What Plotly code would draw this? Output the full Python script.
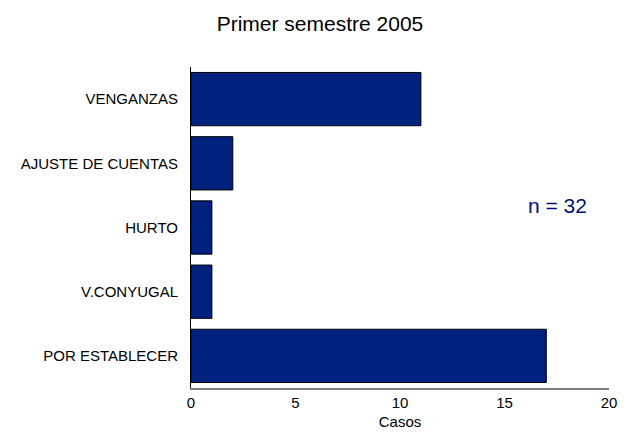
import plotly.graph_objects as go

categories = ["VENGANZAS", "AJUSTE DE CUENTAS", "HURTO", "V.CONYUGAL", "POR ESTABLECER"]
casos = [11, 2, 1, 1, 17]
x_ticks = [0, 5, 10, 15, 20]
title_text = "Primer semestre 2005"
n_text = "n = 32"

# page has an 8px body margin on every side; size the figure to fit the window exactly
OFF = 8
W, H = 634 - 2 * OFF, 445 - 2 * OFF
L, T = 191 - OFF, 67 - OFF
R = 9
B = H - (394 - OFF)
pw, ph = W - L - R, H - T - B

fig = go.Figure(go.Bar(
    y=categories, x=casos, orientation="h",
    marker=dict(color="#00217E", line=dict(color="#000000", width=1)),
    hoverinfo="x+y",
))

fig.update_layout(
    width=W, height=H,
    margin=dict(l=L, r=R, t=T, b=B, pad=0),
    paper_bgcolor="white", plot_bgcolor="white",
    bargap=0.17,
    showlegend=False,
    font=dict(family="Liberation Sans, Arial, sans-serif", color="#000000"),
    title=dict(text=title_text, x=(320 - OFF) / W, xanchor="center",
               y=1 - (24 - OFF) / H, yanchor="middle",
               font=dict(size=21, color="#000000")),
    xaxis=dict(range=[0, 20], tickvals=x_ticks, showgrid=False, zeroline=False,
               showline=True, linecolor="#808080", linewidth=2, ticks="",
               tickfont=dict(size=15), title=dict(text="Casos", font=dict(size=15), standoff=6)),
    yaxis=dict(autorange="reversed", categoryorder="array", categoryarray=categories,
               showgrid=False, zeroline=False, showline=True, linecolor="#000000",
               linewidth=1, ticks="", tickfont=dict(size=15), ticklabelstandoff=9),
    annotations=[dict(text=n_text, x=(565 - 191) / pw, y=(394 - 208) / ph,
                      xref="paper", yref="paper", xanchor="center", yanchor="middle",
                      showarrow=False, font=dict(size=21, color="#00127A"))],
)

fig.write_html("out.html")
